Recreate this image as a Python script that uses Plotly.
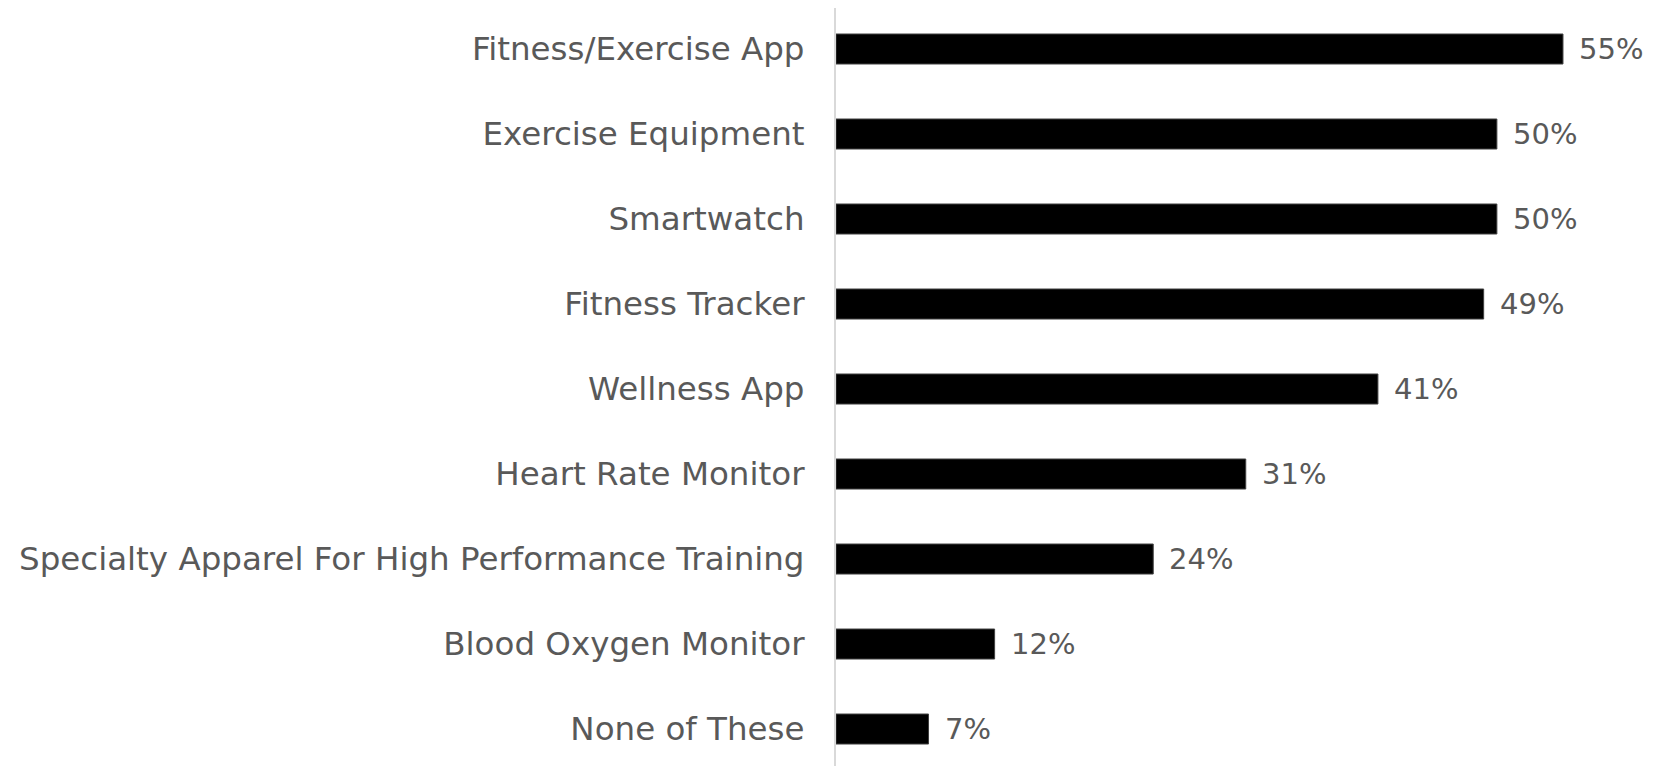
import plotly.graph_objects as go

categories = ["Fitness/Exercise App", "Exercise Equipment", "Smartwatch", "Fitness Tracker",
              "Wellness App", "Heart Rate Monitor", "Specialty Apparel For High Performance Training",
              "Blood Oxygen Monitor", "None of These"]
values = [55, 50, 50, 49, 41, 31, 24, 12, 7]
labels = [f"{v}%" for v in values]

FONT = "DejaVu Sans"
GRAY = "#595959"

fig = go.Figure(go.Bar(
    y=categories, x=values, orientation="h",
    marker=dict(color="#000000", line=dict(color="#404040", width=1)),
    hoverinfo="skip",
))

for c, v, t in zip(categories, values, labels):
    fig.add_annotation(x=v, y=c, text=t, showarrow=False, xanchor="left",
                       xshift=14, yanchor="middle",
                       font=dict(family=FONT, size=29, color=GRAY))

fig.update_layout(
    width=1666, height=758,
    margin=dict(l=828, r=0, t=0, b=0),
    paper_bgcolor="white", plot_bgcolor="white",
    bargap=0.647,
    showlegend=False,
    xaxis=dict(range=[0, 63.4], visible=False),
    yaxis=dict(
        range=[8.435, -0.4824], type="category",
        showline=True, linecolor="#d9d9d9", linewidth=2,
        showgrid=False, zeroline=False, ticks="",
        ticklabelstandoff=23,
        tickfont=dict(family=FONT, size=32.5, color=GRAY),
    ),
)

fig.write_html("out.html")
